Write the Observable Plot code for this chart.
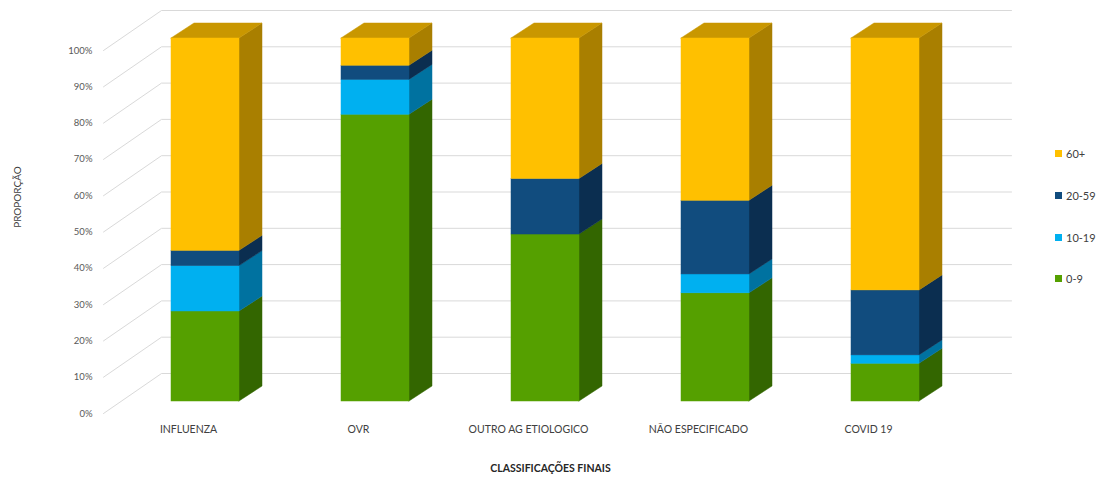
<!DOCTYPE html>
<html>
<head>
<meta charset="utf-8">
<script src="https://cdn.jsdelivr.net/npm/d3@7"></script>
<script src="https://cdn.jsdelivr.net/npm/@observablehq/plot@0.6"></script>
<style>
  body { margin: 0; background: #fff; }
  #chart { position: relative; width: 1101px; height: 477px; font-family: Lato, "Open Sans", sans-serif; }
  .legend { position: absolute; left: 1055px; top: 0; font-size: 11px; color: #404040; }
  .legend .item { position: absolute; left: 0; white-space: nowrap; display: flex; align-items: center; height: 14px; }
  .legend .sw { width: 7px; height: 7px; margin-right: 4px; display: inline-block; }
</style>
</head>
<body>
<div id="chart"></div>
<script>
// Final classification of cases, share (%) by age group
const categories = ["INFLUENZA", "OVR", "OUTRO AG ETIOLOGICO", "NÃO ESPECIFICADO", "COVID 19"];
const ageGroups = ["0-9", "10-19", "20-59", "60+"];
const pct0to9   = [24.8, 79.0, 46.0, 29.8, 10.4];
const pct10to19 = [12.5,  9.6,  0.0,  5.2,  2.3];
const pct20to59 = [ 4.2,  3.9, 15.3, 20.3, 17.9];
const pct60plus = [58.5,  7.5, 38.7, 44.7, 69.4];
const yTicks = [0, 10, 20, 30, 40, 50, 60, 70, 80, 90, 100];

const frontColors = ["#55A000", "#00B0F0", "#114C7E", "#FFC000"];
const sideColors  = ["#336600", "#0072A0", "#0B2E50", "#A97F00"];
const topColors   = ["#448000", "#008CC0", "#0D3C64", "#C99700"];

const width = 1101, height = 477;
const margin = {left: 103, right: 148, top: 50, bottom: 64};
// pixels per category step and per percentage point
const kx = (width - margin.left - margin.right) / categories.length;
const ky = (height - margin.top - margin.bottom) / 100;

// 3D projection offsets (pixels) converted to data units
const wallX = 58 / kx, wallY = 40 / ky;    // depth of the back wall
const shiftX = 17 / kx, shiftY = 12 / ky;  // bars sit slightly behind the front plane
const depthX = 23 / kx, depthY = 15 / ky;  // depth of each column
const half = 34 / kx;                      // half width of a column front

// stacked segments
const series = [pct0to9, pct10to19, pct20to59, pct60plus];
const segments = [];
categories.forEach((c, i) => {
  let base = 0;
  series.forEach((vals, g) => {
    const v = vals[i];
    segments.push({i, g, lo: base, hi: base + v});
    base += v;
  });
});
const visible = segments.filter(s => s.hi > s.lo);

// gridlines: diagonal on the side wall, then horizontal along the back wall
const xMin = -0.5, xMax = categories.length - 0.5;
const gridData = yTicks.flatMap(t => [
  {t, x: xMin, y: t},
  {t, x: xMin + wallX, y: t + wallY},
  {t, x: xMax + wallX, y: t + wallY}
]);

const sideMarks = ageGroups.map((name, g) => {
  const pts = visible.filter(s => s.g === g).flatMap(s => {
    const xr = s.i + half + shiftX;
    return [
      {key: s.i, x: xr, y1: s.lo + shiftY, y2: s.hi + shiftY},
      {key: s.i, x: xr + depthX, y1: s.lo + shiftY + depthY, y2: s.hi + shiftY + depthY}
    ];
  });
  return Plot.areaY(pts, {x: "x", y1: "y1", y2: "y2", z: "key", fill: sideColors[g], stroke: sideColors[g], strokeWidth: 0.5});
});

// top face of each column (on its highest segment)
const tops = categories.map((c, i) => {
  const segs = visible.filter(s => s.i === i);
  return segs[segs.length - 1];
});
const topMarks = ageGroups.map((name, g) => {
  const pts = tops.filter(s => s.g === g).flatMap(s => {
    const xl = s.i - half + shiftX, xr = s.i + half + shiftX;
    return [
      {key: s.i, y: s.hi + shiftY, x1: xl, x2: xr},
      {key: s.i, y: s.hi + shiftY + depthY, x1: xl + depthX, x2: xr + depthX}
    ];
  });
  return Plot.areaX(pts, {y: "y", x1: "x1", x2: "x2", z: "key", fill: topColors[g], stroke: topColors[g], strokeWidth: 0.5});
});

const frontMarks = ageGroups.map((name, g) =>
  Plot.rect(visible.filter(s => s.g === g), {
    x1: s => s.i - half + shiftX,
    x2: s => s.i + half + shiftX,
    y1: s => s.lo + shiftY,
    y2: s => s.hi + shiftY,
    fill: frontColors[g],
    stroke: frontColors[g],
    strokeWidth: 0.5
  })
);

const chart = Plot.plot({
  width, height,
  marginLeft: margin.left, marginRight: margin.right,
  marginTop: margin.top, marginBottom: margin.bottom,
  style: {fontFamily: "Lato, 'Open Sans', sans-serif", background: "white", overflow: "visible", color: "#595959"},
  x: {domain: [xMin, xMax], axis: null},
  y: {domain: [0, 100], axis: null},
  marks: [
    Plot.line(gridData, {x: "x", y: "y", z: "t", stroke: "#d9d9d9", strokeWidth: 1}),
    ...sideMarks,
    ...topMarks,
    ...frontMarks,
    Plot.axisY(yTicks, {tickFormat: d => d + "%", tickSize: 0, tickPadding: 11, fontSize: 9.5, label: null, fill: "#595959"}),
    Plot.text(categories, {x: (d, i) => i, y: () => 0, dy: 16, fontSize: 10.5, fill: "#404040"}),
    Plot.text(["PROPORÇÃO"], {frameAnchor: "left", rotate: -90, textAnchor: "middle", lineAnchor: "middle", dx: -86, dy: -35, fontSize: 10, fill: "#404040"}),
    Plot.text(["CLASSIFICAÇÕES FINAIS"], {frameAnchor: "bottom", textAnchor: "middle", lineAnchor: "middle", dx: 22, dy: 55, fontSize: 10.5, fontWeight: "bold", fill: "#262626"})
  ]
});

const root = document.getElementById("chart");
root.appendChild(chart);

// legend, highest age group on top
const legend = document.createElement("div");
legend.className = "legend";
const legendY = [153, 195, 237, 278];
ageGroups.slice().reverse().forEach((name, k) => {
  const g = ageGroups.length - 1 - k;
  const item = document.createElement("div");
  item.className = "item";
  item.style.top = (legendY[k] - 7) + "px";
  const sw = document.createElement("span");
  sw.className = "sw";
  sw.style.background = frontColors[g];
  item.appendChild(sw);
  item.appendChild(document.createTextNode(name));
  legend.appendChild(item);
});
root.appendChild(legend);
</script>
</body>
</html>
